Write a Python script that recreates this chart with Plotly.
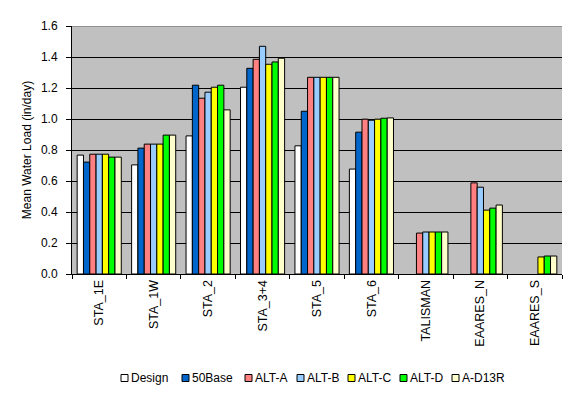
import plotly.graph_objects as go

categories = ["STA_1E", "STA_1W", "STA_2", "STA_3+4", "STA_5", "STA_6", "TALISMAN", "EAARES_N", "EAARES_S"]

design = [0.767, 0.704, 0.891, 1.205, 0.827, 0.677, None, None, None]
base50 = [0.722, 0.812, 1.218, 1.327, 1.050, 0.915, None, None, None]
alt_a = [0.773, 0.838, 1.134, 1.385, 1.269, 0.999, 0.264, 0.588, None]
alt_b = [0.773, 0.838, 1.173, 1.469, 1.269, 0.992, 0.271, 0.560, None]
alt_c = [0.773, 0.838, 1.205, 1.353, 1.269, 0.999, 0.271, 0.412, 0.110]
alt_d = [0.754, 0.896, 1.218, 1.368, 1.269, 1.005, 0.271, 0.425, 0.116]
a_d13r = [0.754, 0.896, 1.059, 1.392, 1.269, 1.007, 0.271, 0.445, 0.116]

series_names = ["Design", "50Base", "ALT-A", "ALT-B", "ALT-C", "ALT-D", "A-D13R"]
series_values = [design, base50, alt_a, alt_b, alt_c, alt_d, a_d13r]
colors = ["#FFFFFF", "#0066CC", "#FF8080", "#99CCFF", "#FFFF00", "#00FF00", "#FFFFCC"]

y_ticks = [0.0, 0.2, 0.4, 0.6, 0.8, 1.0, 1.2, 1.4, 1.6]

FONT = "Arial, Liberation Sans, sans-serif"
OFF = 8  # browser body margin
W_FIG, H_FIG = 576 - OFF, 396 - OFF
L, T = 72 - OFF, 26 - OFF
PW, PH = 490, 248
R = W_FIG - L - PW
B = H_FIG - T - PH


def px(x):
    # page pixel -> paper fraction
    return (x - OFF - L) / PW


def py(y):
    return (T + PH - (y - OFF)) / PH


fig = go.Figure()
for name, vals, col in zip(series_names, series_values, colors):
    fig.add_trace(go.Bar(
        x=categories, y=vals, name=name,
        marker=dict(color=col, line=dict(color="black", width=1)),
        showlegend=False,
    ))

# custom compact legend (Excel style)
legend_x = [121, 182, 245, 297, 348, 400, 452]
legend_y = 378
sq = 7
shapes = []
annotations = []
for name, col, lx in zip(series_names, colors, legend_x):
    shapes.append(dict(
        type="rect", xref="paper", yref="paper",
        x0=px(lx), x1=px(lx + sq), y0=py(legend_y + sq / 2), y1=py(legend_y - sq / 2),
        fillcolor=col, line=dict(color="black", width=1),
    ))
    annotations.append(dict(
        xref="paper", yref="paper", x=px(lx + sq + 1), y=py(legend_y),
        text=name, showarrow=False, xanchor="left", yanchor="middle",
        font=dict(family=FONT, size=12, color="black"),
    ))

# gray top border of the plot area
shapes.append(dict(
    type="line", xref="paper", yref="y", x0=0, x1=1, y0=1.6, y1=1.6,
    line=dict(color="#808080", width=1.5), layer="above",
))

fig.update_layout(
    width=W_FIG, height=H_FIG,
    margin=dict(l=L, r=R, t=T, b=B, autoexpand=False),
    paper_bgcolor="white",
    plot_bgcolor="#C0C0C0",
    barmode="group",
    bargap=0.19,
    bargroupgap=0,
    font=dict(family=FONT, size=12, color="black"),
    shapes=shapes,
    annotations=annotations,
    showlegend=False,
)

fig.update_xaxes(
    type="category",
    showgrid=False,
    showline=True, linecolor="black", linewidth=1,
    ticks="outside", tickson="boundaries", ticklen=4, tickcolor="black",
    tickangle=-90,
    tickfont=dict(family=FONT, size=12.5, color="black"),
    automargin=False,
)

fig.update_yaxes(
    range=[0, 1.6],
    tickvals=y_ticks,
    tickformat=".1f",
    showgrid=True, gridcolor="black", gridwidth=1,
    zeroline=False,
    showline=True, linecolor="black", linewidth=1,
    ticks="outside", ticklen=5, tickcolor="black",
    ticklabelstandoff=6,
    tickfont=dict(family=FONT, size=12, color="black"),
    title=dict(text="Mean Water Load (in/day)", font=dict(family=FONT, size=12, color="black"), standoff=6),
    automargin=False,
)

fig.write_html("out.html")
